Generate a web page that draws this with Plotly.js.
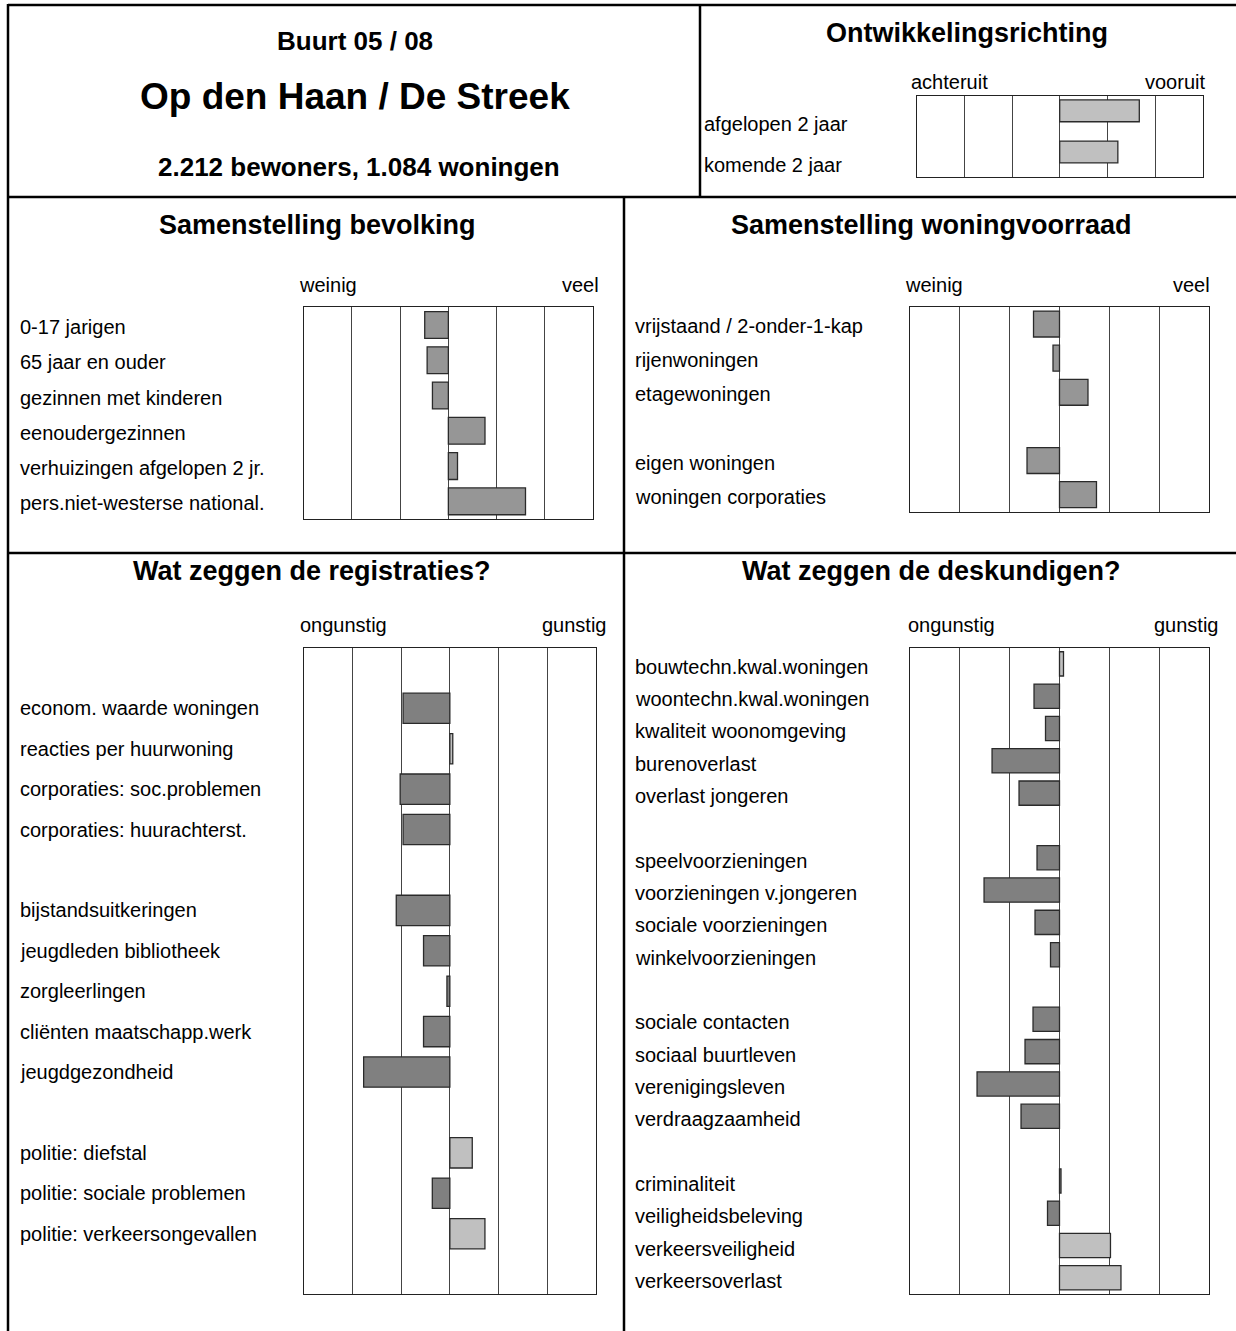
<!DOCTYPE html>
<html>
<head>
<meta charset="utf-8">
<script src="https://cdn.plot.ly/plotly-3.0.1.min.js"></script>
<style>
  html, body { margin: 0; padding: 0; background: #fff; overflow: hidden; }
  #chart { width: 1236px; height: 1331px; }
</style>
</head>
<body>
<div id="chart"></div>
<script>
// ── Data ─────────────────────────────────────────────────────────────────────

const headerLines = ["Buurt 05 / 08", "Op den Haan / De Streek", "2.212 bewoners, 1.084 woningen"];
const panelTitles = [
  "Ontwikkelingsrichting",
  "Samenstelling bevolking",
  "Samenstelling woningvoorraad",
  "Wat zeggen de registraties?",
  "Wat zeggen de deskundigen?",
];

const scaleOntw = ["achteruit", "vooruit"];
const scaleBev  = ["weinig", "veel"];
const scaleReg  = ["ongunstig", "gunstig"];

const ontwLabels = ["afgelopen 2 jaar", "komende 2 jaar"];
const ontwValues = [1.67, 1.22];

const bevLabels = ["0-17 jarigen", "65 jaar en ouder", "gezinnen met kinderen", "eenoudergezinnen",
                   "verhuizingen afgelopen 2 jr.", "pers.niet-westerse national."];
const bevValues = [-0.49, -0.44, -0.33, 0.76, 0.19, 1.6];

const wonLabels1 = ["vrijstaand / 2-onder-1-kap", "rijenwoningen", "etagewoningen"];
const wonValues1 = [-0.52, -0.13, 0.57];
const wonLabels2 = ["eigen woningen", "woningen corporaties"];
const wonValues2 = [-0.65, 0.74];

const regLabels1 = ["econom. waarde woningen", "reacties per huurwoning", "corporaties: soc.problemen", "corporaties: huurachterst."];
const regValues1 = [-0.96, 0.06, -1.02, -0.96];
const regLabels2 = ["bijstandsuitkeringen", "jeugdleden bibliotheek", "zorgleerlingen", "cliënten maatschapp.werk", "jeugdgezondheid"];
const regValues2 = [-1.10, -0.54, -0.06, -0.54, -1.77];
const regLabels3 = ["politie: diefstal", "politie: sociale problemen", "politie: verkeersongevallen"];
const regValues3 = [0.46, -0.36, 0.72];

const desLabels1 = ["bouwtechn.kwal.woningen", "woontechn.kwal.woningen", "kwaliteit woonomgeving", "burenoverlast", "overlast jongeren"];
const desValues1 = [0.08, -0.51, -0.28, -1.35, -0.81];
const desLabels2 = ["speelvoorzieningen", "voorzieningen v.jongeren", "sociale voorzieningen", "winkelvoorzieningen"];
const desValues2 = [-0.45, -1.51, -0.49, -0.18];
const desLabels3 = ["sociale contacten", "sociaal buurtleven", "verenigingsleven", "verdraagzaamheid"];
const desValues3 = [-0.53, -0.69, -1.65, -0.77];
const desLabels4 = ["criminaliteit", "veiligheidsbeleving", "verkeersveiligheid", "verkeersoverlast"];
const desValues4 = [0.03, -0.24, 1.02, 1.23];

// ── Page geometry (pixels) ───────────────────────────────────────────────────

const W = 1236, H = 1331;
const FONT = "Liberation Sans, Arial, Helvetica, sans-serif";
const px = x => x / W;
const py = y => 1 - y / H;

const DARK  = "#808080";
const MID   = "#969696";
const LIGHT = "#c0c0c0";

// een lege rij tussen de groepen
function buildSlots(groups) {
  const pos = [], labels = [], values = [];
  let p = 0;
  groups.forEach(([ls, vs], gi) => {
    if (gi > 0) p += 1;
    ls.forEach((l, i) => { pos.push(p); labels.push(l); values.push(vs[i]); p += 1; });
  });
  return { pos, labels, values };
}

const panels = [
  { id: "",  slots: buildSlots([[ontwLabels, ontwValues]]),
    box: [916.7, 1202.7, 96, 176.7], yrange: [1.6, -0.36], bw: 0.53,
    color: () => LIGHT, labelX: 702.5, labelShift: -13, scale: scaleOntw, scaleY: 82, scaleX: [909, 1207] },
  { id: "2", slots: buildSlots([[bevLabels, bevValues]]),
    box: [303.7, 593, 307.3, 519], yrange: [5.5, -0.5], bw: 0.76,
    color: () => MID, labelX: 17.8, labelShift: -2, scale: scaleBev, scaleY: 285, scaleX: [297, 601] },
  { id: "3", slots: buildSlots([[wonLabels1, wonValues1], [wonLabels2, wonValues2]]),
    box: [909.6, 1209.4, 307, 511.7], yrange: [5.5, -0.5], bw: 0.76,
    color: () => MID, labelX: 632.5, labelShift: -2, scale: scaleBev, scaleY: 285, scaleX: [903, 1211.5] },
  { id: "4", slots: buildSlots([[regLabels1, regValues1], [regLabels2, regValues2], [regLabels3, regValues3]]),
    box: [303.7, 596, 647.7, 1294.3], yrange: [14.5, -1.5], bw: 0.75,
    color: v => (v > 0 ? LIGHT : DARK), labelX: 17.8, labelShift: 0, scale: scaleReg, scaleY: 625, scaleX: [298, 609] },
  { id: "5", slots: buildSlots([[desLabels1, desValues1], [desLabels2, desValues2], [desLabels3, desValues3], [desLabels4, desValues4]]),
    box: [909.6, 1209.4, 647.7, 1294], yrange: [19.5, -0.5], bw: 0.75,
    color: v => (v > 0 ? LIGHT : DARK), labelX: 632.5, labelShift: -3, scale: scaleReg, scaleY: 625, scaleX: [906, 1221] },
];

const titlePos = [[967, 33], [317, 225], [931.5, 225], [312, 571], [931, 571]];

// ── Traces, axes, labels ─────────────────────────────────────────────────────

const traces = [];
const layout = {
  width: W, height: H,
  margin: { t: 0, r: 0, b: 0, l: 0 },
  paper_bgcolor: "#fff", plot_bgcolor: "#fff",
  showlegend: false,
  font: { family: FONT, color: "#000", size: 20 },
  annotations: [],
  shapes: [],
};

function txt(text, x, y, size, opts = {}) {
  return Object.assign({
    text, x: px(x), y: py(y), xref: "paper", yref: "paper",
    xanchor: "center", yanchor: "middle", showarrow: false,
    font: { family: FONT, size, color: "#000" },
  }, opts);
}

panels.forEach(p => {
  const [x0, x1, y0, y1] = p.box;
  const xa = "x" + p.id, ya = "y" + p.id;

  traces.push({
    type: "bar", orientation: "h",
    x: p.slots.values, y: p.slots.pos,
    xaxis: xa, yaxis: ya,
    width: p.bw,
    marker: { color: p.slots.values.map(p.color), line: { color: "#2a2a2a", width: 1.3 } },
    hoverinfo: "skip",
  });

  layout["xaxis" + p.id] = {
    domain: [px(x0), px(x1)], anchor: ya,
    range: [-3, 3], tick0: 0, dtick: 1,
    showgrid: true, gridcolor: "#444", gridwidth: 1, zeroline: false,
    showline: true, mirror: true, linecolor: "#222", linewidth: 1,
    showticklabels: false, ticks: "", fixedrange: true,
  };
  layout["yaxis" + p.id] = {
    domain: [py(y1), py(y0)], anchor: xa,
    range: p.yrange,
    showgrid: false, zeroline: false,
    showline: true, mirror: true, linecolor: "#222", linewidth: 1,
    showticklabels: false, ticks: "", fixedrange: true,
  };

  p.slots.labels.forEach((l, i) => {
    layout.annotations.push({
      text: l, xref: "paper", yref: ya, x: px(p.labelX), y: p.slots.pos[i],
      xanchor: "left", yanchor: "middle", yshift: p.labelShift, showarrow: false,
      font: { family: FONT, size: 20, color: "#000" },
    });
  });

  layout.annotations.push(txt(p.scale[0], p.scaleX[0], p.scaleY, 20, { xanchor: "left" }));
  layout.annotations.push(txt(p.scale[1], p.scaleX[1], p.scaleY, 20, { xanchor: "right" }));
});

panelTitles.forEach((t, i) => {
  layout.annotations.push(txt("<b>" + t + "</b>", titlePos[i][0], titlePos[i][1], 27));
});

layout.annotations.push(txt("<b>" + headerLines[0] + "</b>", 355, 41, 26));
layout.annotations.push(txt("<b>" + headerLines[1] + "</b>", 355, 97, 37));
layout.annotations.push(txt("<b>" + headerLines[2] + "</b>", 359, 167, 26));

// ── Kaderlijnen ──────────────────────────────────────────────────────────────

function line(x0, y0, x1, y1, w) {
  return { type: "line", xref: "paper", yref: "paper",
           x0: px(x0), y0: py(y0), x1: px(x1), y1: py(y1),
           line: { color: "#000", width: w } };
}

layout.shapes.push(
  line(8, 5, W, 5, 2.5),
  line(8, 4, 8, H, 2.5),
  line(8, 197, W, 197, 2.5),
  line(700, 5, 700, 197, 2.5),
  line(624, 197, 624, H, 2.5),
  line(8, 553, W, 553, 2.5),
);

Plotly.newPlot("chart", traces, layout, { displayModeBar: false, staticPlot: true });
</script>
</body>
</html>
